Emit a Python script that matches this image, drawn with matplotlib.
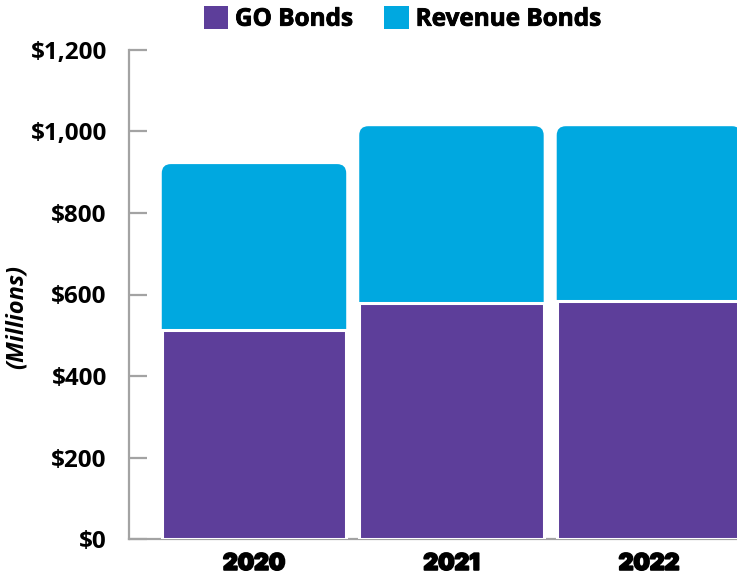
import matplotlib.pyplot as plt
import matplotlib.patheffects as pe
from matplotlib.patches import FancyBboxPatch
from matplotlib.ticker import FuncFormatter

plt.rcParams['font.family'] = ['Open Sans', 'DejaVu Sans']

years = ['2020', '2021', '2022']
go_bonds = [512, 579, 584]
revenue_bonds = [408, 434, 429]

PURPLE = '#5D3E9A'
CYAN = '#00A8E0'
GRAY = '#A3A3A3'

fig = plt.figure(figsize=(7.37, 5.77), dpi=100)
ax = fig.add_axes([129 / 737, 1 - 539 / 577, 1 - 129 / 737, (539 - 50) / 577])

x = list(range(len(years)))
totals = [g + r for g, r in zip(go_bonds, revenue_bonds)]
width = 0.934

# full-height revenue bars, then swap them for rounded-top versions
rev = ax.bar(x, totals, width=width, color=CYAN, zorder=2)
ax.set_xlim(-0.633, 2.446)
ax.set_ylim(0, 1200)
for p in rev:
    bx, by = p.get_x(), p.get_y()
    bw, bh = p.get_width(), p.get_height()
    p.set_visible(False)
    r = 0.046
    aspect = (1200 / 489) / (3.079 / 608)
    ax.add_patch(FancyBboxPatch((bx, by), bw, bh,
                                boxstyle='round,pad=0,rounding_size=%f' % r,
                                mutation_aspect=aspect, facecolor=CYAN,
                                edgecolor='none', zorder=2))

go = ax.bar(x, go_bonds, width=width, color=PURPLE, edgecolor='white',
            linewidth=2.2, zorder=3)

for s in ('top', 'right'):
    ax.spines[s].set_visible(False)
for s in ('left', 'bottom'):
    ax.spines[s].set_color(GRAY)
    ax.spines[s].set_linewidth(1.6)
    ax.spines[s].set_zorder(1)

ax.set_yticks(range(0, 1201, 200))
ax.yaxis.set_major_formatter(FuncFormatter(lambda v, _: '${:,.0f}'.format(v)))
ax.tick_params(axis='y', direction='in', length=13, width=1.6, color=GRAY,
               pad=16, labelsize=17.5)
for t in ax.get_yticklabels():
    t.set_fontweight('bold')

ax.set_xticks(x)
ax.set_xticklabels(years, fontsize=16.5, fontweight=900, family='Inter')
ax.tick_params(axis='x', length=0, pad=10)
for t in ax.get_xticklabels():
    t.set_path_effects([pe.withStroke(linewidth=1.3, foreground='black')])

fig.text(17 / 737, 1 - 317 / 577, '(Millions)', rotation=90, ha='center',
         va='center', fontsize=17, fontweight='bold', style='italic')

leg = fig.legend([go[0], rev[0]], ['GO Bonds', 'Revenue Bonds'], ncol=2,
                 loc='center', bbox_to_anchor=(402 / 737, 1 - 19 / 577),
                 frameon=False, prop={'size': 17.5, 'weight': 'bold'},
                 handlelength=1.0, handleheight=1.03, handletextpad=0.29,
                 columnspacing=1.3, borderpad=0, borderaxespad=0)
for h in leg.legend_handles:
    h.set_visible(True)
    h.set_edgecolor('none')
    h.set_linewidth(0)
leg.legend_handles[1].set_facecolor(CYAN)
for t in leg.get_texts():
    t.set_path_effects([pe.withStroke(linewidth=0.6, foreground='black')])

fig.savefig('out.png', dpi=100)
